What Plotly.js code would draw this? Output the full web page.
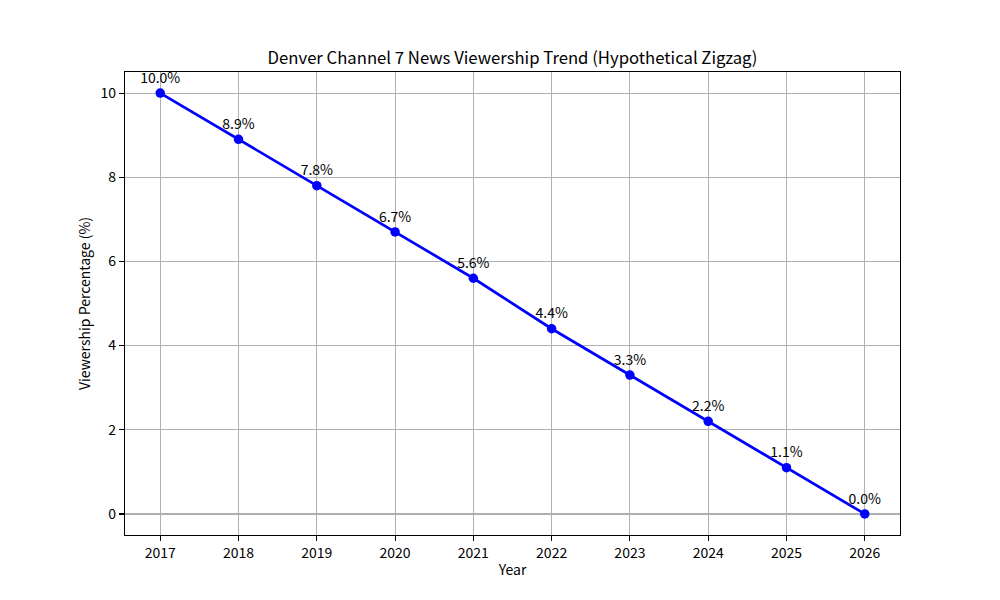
<!DOCTYPE html>
<html>
<head>
<meta charset="utf-8">
<script src="https://cdn.plot.ly/plotly-3.0.1.min.js"></script>
<style>
  body { margin: 0; background: #fff; }
  #chart { width: 1000px; height: 600px; }
</style>
</head>
<body>
<div id="chart"></div>
<script>
var years = [2017, 2018, 2019, 2020, 2021, 2022, 2023, 2024, 2025, 2026];
var viewership = [10.0, 8.9, 7.8, 6.7, 5.6, 4.4, 3.3, 2.2, 1.1, 0.0];
var yTicks = [0, 2, 4, 6, 8, 10];

var labels = viewership.map(function(v) { return v.toFixed(1) + '%'; });

var font = '"Noto Sans CJK JP", "Noto Sans", "DejaVu Sans", sans-serif';

var trace = {
  x: years,
  y: viewership,
  mode: 'lines+markers+text',
  text: labels,
  textposition: 'top center',
  textfont: { family: font, size: 14, color: '#000' },
  line: { color: '#0000ff', width: 2.7 },
  marker: { color: '#0000ff', size: 9.5 },
  hoverinfo: 'x+y',
  cliponaxis: false
};

var axisCommon = {
  showline: true,
  linecolor: '#000',
  linewidth: 1.1,
  mirror: true,
  ticks: 'outside',
  ticklen: 5,
  tickwidth: 1.1,
  tickcolor: '#000',
  showgrid: true,
  gridcolor: '#b0b0b0',
  gridwidth: 1.1,
  zeroline: false,
  tickfont: { family: font, size: 14, color: '#000' }
};

var layout = {
  width: 1000,
  height: 600,
  paper_bgcolor: '#fff',
  plot_bgcolor: '#fff',
  showlegend: false,
  margin: { l: 125, r: 100, t: 72, b: 65 },
  title: {
    text: 'Denver Channel 7 News Viewership Trend (Hypothetical Zigzag)',
    font: { family: font, size: 16.7, color: '#000' },
    x: 0.5125,
    xanchor: 'center',
    y: 0.903,
    yanchor: 'middle'
  },
  xaxis: Object.assign({}, axisCommon, {
    range: [2016.55, 2026.45],
    tickvals: years,
    ticktext: years.map(String),
    title: { text: 'Year', font: { family: font, size: 14, color: '#000' }, standoff: 4 }
  }),
  yaxis: Object.assign({}, axisCommon, {
    range: [-0.5, 10.5],
    tickvals: yTicks,
    title: { text: 'Viewership Percentage (%)', font: { family: font, size: 14, color: '#000' }, standoff: 6 }
  })
};

Plotly.newPlot('chart', [trace], layout, { displayModeBar: false, staticPlot: true });
</script>
</body>
</html>
